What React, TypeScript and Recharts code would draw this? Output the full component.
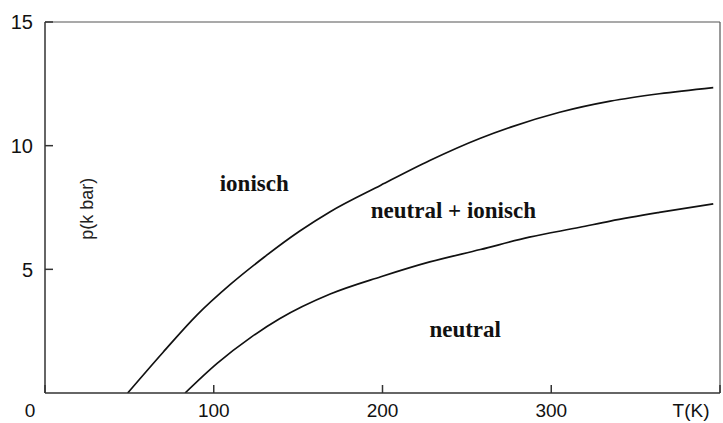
import { LineChart, Line, XAxis, YAxis, ReferenceLine, ReferenceDot } from 'recharts';

// upper boundary: ionisch / neutral + ionisch
const upperT = [49, 70, 90, 110, 130, 151, 169, 199, 228, 258, 276, 305, 335, 364, 396];
const upperP = [0, 1.65, 3.15, 4.4, 5.5, 6.55, 7.33, 8.4, 9.4, 10.3, 10.75, 11.35, 11.8, 12.1, 12.35];

// lower boundary: neutral + ionisch / neutral
const lowerT = [83, 102, 122, 139, 169, 199, 228, 258, 287, 317, 335, 364, 396];
const lowerP = [0, 1.2, 2.25, 3.0, 4.0, 4.7, 5.3, 5.8, 6.3, 6.7, 6.95, 7.3, 7.65];

const xTicks = [0, 100, 200, 300, 400];
const yTicks = [5, 10, 15];

const regionLabels = [
  { text: 'ionisch', t: 124, p: 8.5 },
  { text: 'neutral + ionisch', t: 242, p: 7.4 },
  { text: 'neutral', t: 249, p: 2.6 },
];

const upper = upperT.map((t, i) => ({ t, p: upperP[i] }));
const lower = lowerT.map((t, i) => ({ t, p: lowerP[i] }));

const axisColor = '#333';
const sansFont = '"Liberation Sans", Arial, sans-serif';

function XTick({ x, y, payload }: any) {
  const v = payload.value;
  let label = String(v);
  let dx = 0;
  if (v === 0) dx = -15;
  if (v === 400) {
    label = 'T(K)';
    dx = -20;
  }
  return (
    <text x={x + dx} y={y} dy="0.71em" textAnchor="middle" fontSize={19} fontFamily={sansFont} fill="#111">
      {label}
    </text>
  );
}

function YTick({ x, y, payload }: any) {
  return (
    <text x={x} y={y} dy="0.36em" textAnchor="end" fontSize={20} fontFamily={sansFont} fill="#111">
      {payload.value}
    </text>
  );
}

export default function App() {
  return (
    <div style={{ position: 'absolute', left: 0, top: 0, background: '#fff' }}>
      <LineChart width={723} height={423} margin={{ top: 22, right: 3, left: 0, bottom: 0 }}>
        <XAxis
          dataKey="t"
          type="number"
          domain={[0, 400]}
          ticks={xTicks}
          allowDataOverflow
          height={30}
          stroke={axisColor}
          strokeWidth={1.5}
          tickSize={-8}
          tickMargin={19}
          tick={<XTick />}
        />
        <YAxis
          dataKey="p"
          type="number"
          domain={[0, 15]}
          ticks={yTicks}
          allowDataOverflow
          width={45}
          stroke={axisColor}
          strokeWidth={1.5}
          tickSize={-8}
          tickMargin={20}
          tick={<YTick />}
        />
        <ReferenceLine y={15} stroke="#555" strokeWidth={1.2} />
        <ReferenceLine x={400} stroke="#555" strokeWidth={1.2} />
        <Line
          data={upper}
          dataKey="p"
          type="monotone"
          stroke="#111"
          strokeWidth={1.7}
          dot={false}
          isAnimationActive={false}
        />
        <Line
          data={lower}
          dataKey="p"
          type="monotone"
          stroke="#111"
          strokeWidth={1.7}
          dot={false}
          isAnimationActive={false}
        />
        {regionLabels.map((r) => (
          <ReferenceDot
            key={r.text}
            x={r.t}
            y={r.p}
            r={0}
            shape={(props: any) => (
              <text
                x={props.cx}
                y={props.cy}
                dy="0.35em"
                textAnchor="middle"
                fontSize={23}
                fontWeight="bold"
                fontFamily='"Liberation Serif", "Times New Roman", serif'
                fill="#111"
              >
                {r.text}
              </text>
            )}
          />
        ))}
        <ReferenceDot
          x={25}
          y={7.45}
          r={0}
          shape={(props: any) => (
            <text
              x={props.cx}
              y={props.cy}
              dy="0.35em"
              textAnchor="middle"
              fontSize={18}
              fontFamily={sansFont}
              fill="#222"
              transform={`rotate(-90, ${props.cx}, ${props.cy})`}
            >
              p(k bar)
            </text>
          )}
        />
      </LineChart>
    </div>
  );
}
